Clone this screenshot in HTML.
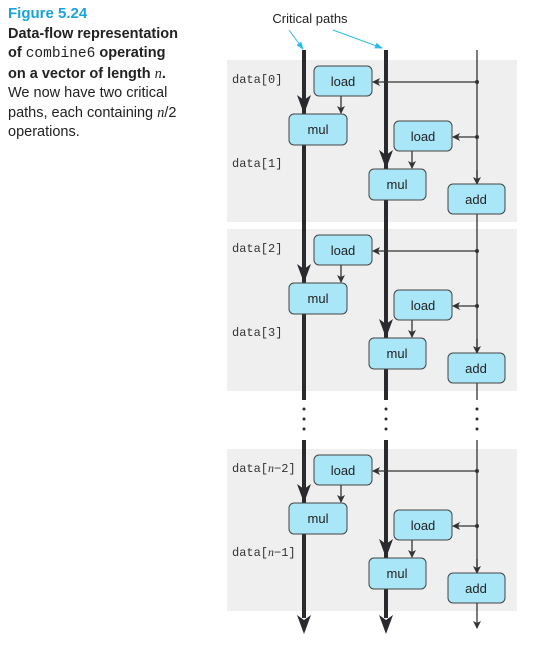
<!DOCTYPE html><html><head><style>
body{margin:0;background:#fff;width:536px;height:646px;overflow:hidden;position:relative;font-family:"Liberation Sans",sans-serif}
.cap{position:absolute;left:8px;top:4px;width:178px;font-size:14.5px;line-height:19.5px;color:#222}
</style></head><body>
<div class="cap"><span style="color:#1aa3d9;font-weight:bold;font-size:15px">Figure 5.24</span><br><b>Data-flow representation of <span style="font-family:'Liberation Mono',monospace;font-weight:normal">combine6</span> operating on a vector of length <i style="font-family:'Liberation Serif',serif;font-weight:normal">n</i>.</b><br>We now have two critical paths, each containing <i style="font-family:'Liberation Serif',serif">n</i>/2 operations.</div>
<svg width="536" height="646" style="position:absolute;left:0;top:0" font-family="Liberation Sans,sans-serif">
<defs>
<marker id="t" markerWidth="8" markerHeight="8" refX="7" refY="4" orient="auto" markerUnits="userSpaceOnUse"><path d="M0,0 L8,4 L0,8 L2,4z" fill="#333"/></marker>
<marker id="c" markerWidth="8" markerHeight="8" refX="7" refY="4" orient="auto" markerUnits="userSpaceOnUse"><path d="M0,1 L8,4 L0,7z" fill="#2bbbe8"/></marker>
<g id="blk">
<rect x="227" y="60" width="290" height="162" fill="#efefef"/>
</g>
</defs>
<text x="310" y="23" font-size="13" text-anchor="middle" fill="#222">Critical paths</text>
<line x1="289" y1="30" x2="303" y2="49" stroke="#2bbbe8" stroke-width="1" marker-end="url(#c)"/>
<line x1="333" y1="30" x2="382" y2="48" stroke="#2bbbe8" stroke-width="1" marker-end="url(#c)"/>
<use href="#blk"/><use href="#blk" y="169"/><use href="#blk" y="389"/>
<g stroke="#2a2a2e" stroke-width="4">
<line x1="304" y1="50" x2="304" y2="400"/><line x1="304" y1="440" x2="304" y2="618"/>
<line x1="386" y1="50" x2="386" y2="400"/><line x1="386" y1="440" x2="386" y2="618"/>
</g>
<g stroke="#333" stroke-width="1.3">
<line x1="477" y1="50" x2="477" y2="400"/><line x1="477" y1="440" x2="477" y2="628" marker-end="url(#t)"/>
</g>
<g fill="#2a2a2e">
<path d="M297,615 L304,620 L311,615 L304,634z"/><path d="M379,615 L386,620 L393,615 L386,634z"/>
<circle cx="304" cy="409" r="1.5"/><circle cx="304" cy="419" r="1.5"/><circle cx="304" cy="429" r="1.5"/>
<circle cx="386" cy="409" r="1.5"/><circle cx="386" cy="419" r="1.5"/><circle cx="386" cy="429" r="1.5"/>
<circle cx="477" cy="409" r="1.5"/><circle cx="477" cy="419" r="1.5"/><circle cx="477" cy="429" r="1.5"/>
</g>
<defs>
<g id="ops">
<path d="M297,95 L304,100 L311,95 L304,114z" fill="#2a2a2e"/>
<path d="M379,150 L386,155 L393,150 L386,169z" fill="#2a2a2e"/>
<g stroke="#333" stroke-width="1.3">
<line x1="477" y1="82" x2="373" y2="82" marker-end="url(#t)"/>
<line x1="477" y1="137" x2="453" y2="137" marker-end="url(#t)"/>
<line x1="477" y1="170" x2="477" y2="184" marker-end="url(#t)"/>
<line x1="341" y1="96" x2="341" y2="113" marker-end="url(#t)"/>
<line x1="412" y1="151" x2="412" y2="168" marker-end="url(#t)"/>
</g>
<circle cx="477" cy="82" r="2" fill="#333"/><circle cx="477" cy="137" r="2" fill="#333"/>
<g fill="#a8e6f8" stroke="#444" stroke-width="1">
<rect x="314" y="66" width="58" height="30" rx="5"/>
<rect x="289" y="114" width="58" height="31" rx="5"/>
<rect x="394" y="121" width="58" height="30" rx="5"/>
<rect x="369" y="169" width="57" height="31" rx="5"/>
<rect x="448" y="184" width="57" height="30" rx="5"/>
</g>
<g font-size="13" fill="#222" text-anchor="middle">
<text x="343" y="86">load</text><text x="318" y="134">mul</text>
<text x="423" y="141">load</text><text x="397" y="189">mul</text><text x="476" y="204">add</text>
</g>
</g>
</defs>
<use href="#ops"/><use href="#ops" y="169"/><use href="#ops" y="389"/>
<g font-family="Liberation Mono,monospace" font-size="12" fill="#333">
<text x="232" y="83">data[0]</text><text x="232" y="167">data[1]</text>
<text x="232" y="252">data[2]</text><text x="232" y="336">data[3]</text>
<text x="232" y="472">data[<tspan font-family="Liberation Serif,serif" font-style="italic">n</tspan>−2]</text>
<text x="232" y="556">data[<tspan font-family="Liberation Serif,serif" font-style="italic">n</tspan>−1]</text>
</g>
</svg>
</body></html>
